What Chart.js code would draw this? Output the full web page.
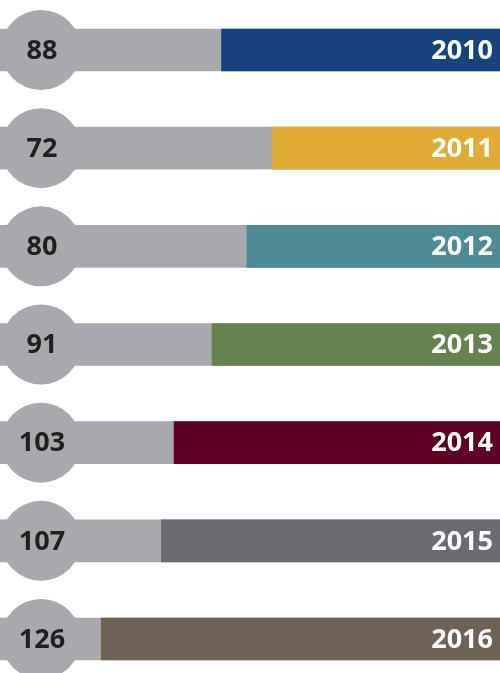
<!DOCTYPE html>
<html>
<head>
<meta charset="utf-8">
<script src="https://cdn.jsdelivr.net/npm/chart.js@4.4.0/dist/chart.umd.min.js"></script>
<style>
  html, body { margin: 0; padding: 0; background: #ffffff; }
  #wrap { width: 500px; height: 673px; position: relative; }
</style>
</head>
<body>
<div id="wrap"><canvas id="chart"></canvas></div>
<script>
const years = ["2010", "2011", "2012", "2013", "2014", "2015", "2016"];
const values = [88, 72, 80, 91, 103, 107, 126];
const yearColors = ["#17437d", "#e0ac36", "#4e8b95", "#66824f", "#5d0023", "#6a6b70", "#6e6254"];
const trackMax = 158;
const trackValues = [158, 158, 158, 158, 158, 158, 158];

const GRAY = "#a8a9ad";

// circle with the value on the left and the year inside the coloured bar
const labelPlugin = {
  id: "labels",
  afterDatasetsDraw(chart) {
    const ctx = chart.ctx;
    const yScale = chart.scales.y;
    ctx.save();
    years.forEach((yr, i) => {
      const y = yScale.getPixelForValue(i);
      ctx.beginPath();
      ctx.arc(41, y, 40, 0, Math.PI * 2);
      ctx.fillStyle = GRAY;
      ctx.fill();

      ctx.font = "bold 27px 'Open Sans'";
      ctx.fillStyle = "#231f20";
      ctx.textAlign = "center";
      ctx.textBaseline = "middle";
      ctx.fillText(String(values[i]), 42, y + 1);

      ctx.fillStyle = "#ffffff";
      ctx.textAlign = "right";
      ctx.fillText(yr, 493, y + 1);
    });
    ctx.restore();
  }
};

new Chart(document.getElementById("chart"), {
  type: "bar",
  data: {
    labels: years,
    datasets: [
      {
        label: "value",
        data: values,
        backgroundColor: yearColors,
        barThickness: 42,
        grouped: false,
        clip: false,
        order: 1
      },
      {
        label: "track",
        data: trackValues,
        backgroundColor: GRAY,
        barThickness: 42,
        grouped: false,
        clip: false,
        order: 2
      }
    ]
  },
  options: {
    indexAxis: "y",
    responsive: true,
    maintainAspectRatio: false,
    animation: false,
    layout: { padding: { top: 50, bottom: 34, left: 0, right: 0 } },
    scales: {
      x: {
        reverse: true,
        min: 0,
        max: trackMax,
        display: false
      },
      y: {
        offset: false,
        display: false
      }
    },
    plugins: {
      legend: { display: false },
      tooltip: { enabled: false }
    }
  },
  plugins: [labelPlugin]
});
</script>
</body>
</html>
